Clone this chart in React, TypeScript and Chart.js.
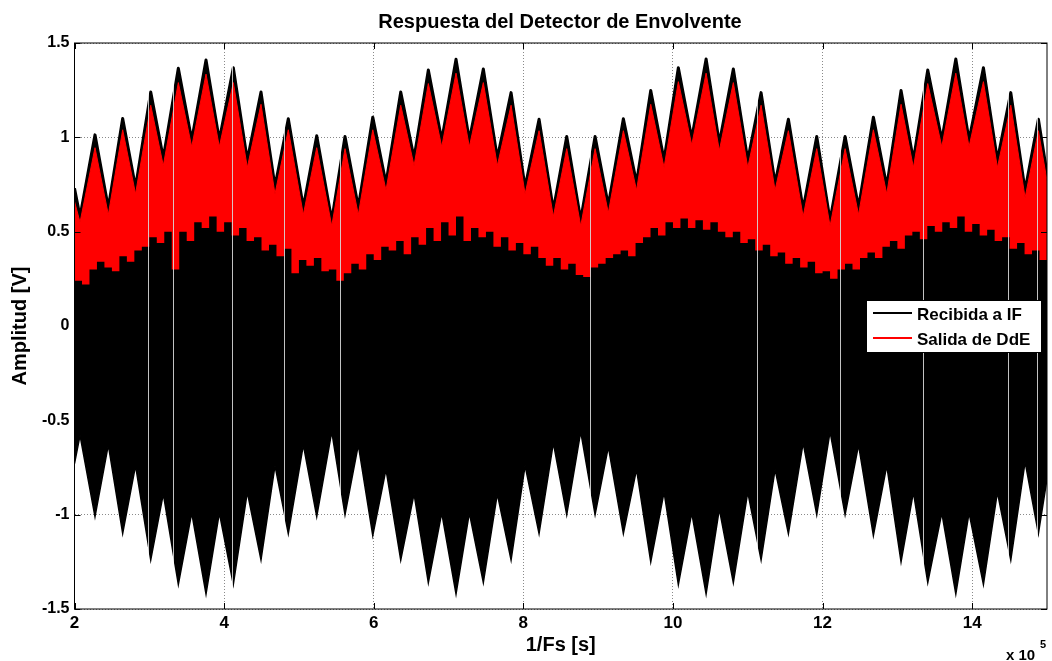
import React, { useEffect, useRef } from "react";
import { Chart, registerables } from "chart.js";

Chart.register(...registerables);

// ---- Data (x in units of 1e5 samples) ----
// Knots of the received-IF envelope (alternating troughs / peaks)
const envelopeX = [
  2.0, 2.074, 2.274, 2.452, 2.644, 2.816, 3.019, 3.187, 3.388, 3.567, 3.758, 3.936,
  4.123, 4.31, 4.493, 4.68, 4.858, 5.059, 5.238, 5.439, 5.616, 5.794, 5.987, 6.164,
  6.361, 6.539, 6.73, 6.909, 7.1, 7.278, 7.465, 7.652, 7.836, 8.023, 8.21, 8.401,
  8.58, 8.767, 8.959, 9.136, 9.337, 9.513, 9.703, 9.881, 10.072, 10.251, 10.443, 10.62,
  10.807, 11.0, 11.178, 11.365, 11.543, 11.74, 11.922, 12.1, 12.301, 12.481, 12.679, 12.858,
  13.049, 13.214, 13.406, 13.594, 13.781, 13.958, 14.15, 14.337, 14.516, 14.707, 14.885, 15.0,
];

// Upper envelope of the received IF signal (black)
const receivedUpper = [
  0.73, 0.58, 1.013, 0.627, 1.1, 0.735, 1.24, 0.89, 1.366, 0.986, 1.41, 0.986,
  1.369, 0.88, 1.24, 0.74, 1.098, 0.63, 1.008, 0.56, 1.004, 0.63, 1.107, 0.757,
  1.24, 0.89, 1.357, 0.986, 1.414, 0.986, 1.362, 0.89, 1.237, 0.735, 1.096, 0.616,
  1.004, 0.563, 1.004, 0.64, 1.098, 0.76, 1.248, 0.88, 1.369, 0.995, 1.415, 0.97,
  1.362, 0.88, 1.237, 0.757, 1.096, 0.62, 1.004, 0.56, 1.004, 0.63, 1.107, 0.74,
  1.248, 0.88, 1.357, 0.986, 1.415, 0.986, 1.369, 0.88, 1.237, 0.72, 1.096, 0.81,
];

// Lower envelope of the received IF signal (black)
const receivedLower = [
  -0.73, -0.58, -1.01, -0.63, -1.1, -0.74, -1.24, -0.89, -1.37, -0.99, -1.42, -0.99,
  -1.37, -0.88, -1.24, -0.74, -1.1, -0.63, -1.01, -0.56, -1.0, -0.63, -1.11, -0.76,
  -1.24, -0.89, -1.36, -0.99, -1.42, -0.99, -1.36, -0.89, -1.24, -0.74, -1.1, -0.62,
  -1.0, -0.56, -1.0, -0.64, -1.1, -0.76, -1.25, -0.88, -1.37, -0.99, -1.42, -0.97,
  -1.36, -0.88, -1.24, -0.76, -1.1, -0.62, -1.0, -0.56, -1.0, -0.63, -1.11, -0.74,
  -1.25, -0.88, -1.36, -0.99, -1.42, -0.99, -1.37, -0.88, -1.24, -0.72, -1.1, -0.81,
];

// Upper edge of the envelope-detector output (red)
const detectorUpper = [
  0.66, 0.55, 0.945, 0.59, 1.04, 0.7, 1.17, 0.85, 1.29, 0.95, 1.335, 0.95,
  1.29, 0.84, 1.175, 0.7, 1.04, 0.59, 0.945, 0.53, 0.94, 0.59, 1.04, 0.72,
  1.17, 0.85, 1.285, 0.95, 1.34, 0.95, 1.29, 0.85, 1.17, 0.7, 1.035, 0.58,
  0.94, 0.53, 0.94, 0.6, 1.035, 0.72, 1.175, 0.84, 1.295, 0.96, 1.34, 0.93,
  1.29, 0.84, 1.17, 0.72, 1.035, 0.58, 0.94, 0.53, 0.94, 0.59, 1.04, 0.7,
  1.175, 0.84, 1.285, 0.95, 1.34, 0.95, 1.295, 0.84, 1.17, 0.68, 1.035, 0.77,
];

// Lower (noisy) edge of the detector output, sampled every 0.1e5 from 2 to 15
const detectorLower = [
  0.24, 0.22, 0.3, 0.34, 0.31, 0.29, 0.37, 0.34, 0.4, 0.42,
  0.47, 0.44, 0.5, 0.3, 0.5, 0.45, 0.55, 0.52, 0.58, 0.5,
  0.55, 0.48, 0.52, 0.45, 0.47, 0.4, 0.43, 0.37, 0.41, 0.28,
  0.35, 0.32, 0.36, 0.29, 0.3, 0.24, 0.28, 0.33, 0.3, 0.38,
  0.35, 0.42, 0.4, 0.45, 0.38, 0.47, 0.43, 0.52, 0.45, 0.55,
  0.48, 0.58, 0.45, 0.52, 0.47, 0.5, 0.42, 0.47, 0.4, 0.44,
  0.38, 0.42, 0.36, 0.32, 0.36, 0.3, 0.33, 0.27, 0.26, 0.31,
  0.33, 0.36, 0.38, 0.4, 0.37, 0.44, 0.47, 0.52, 0.48, 0.55,
  0.52, 0.57, 0.52, 0.56, 0.51, 0.55, 0.5, 0.47, 0.5, 0.44,
  0.46, 0.4, 0.43, 0.37, 0.39, 0.33, 0.36, 0.31, 0.34, 0.28,
  0.29, 0.25, 0.3, 0.33, 0.3, 0.36, 0.39, 0.36, 0.42, 0.45,
  0.41, 0.48, 0.5, 0.46, 0.53, 0.5, 0.55, 0.52, 0.58, 0.5,
  0.54, 0.48, 0.51, 0.45, 0.47, 0.41, 0.44, 0.38, 0.4, 0.35,
  0.37,
];
const detectorLowerStart = 2;
const detectorLowerStep = 0.1;

// Thin sampling gaps that show as pale vertical lines through the signal
const carrierGapsX = [2.98, 3.32, 4.11, 4.8, 5.55, 8.89, 11.12, 12.23, 13.34, 14.48, 14.87];

const xTicks = [2, 4, 6, 8, 10, 12, 14];
const xTickLabels = ["2", "4", "6", "8", "10", "12", "14"];
const yTicks = [-1.5, -1, -0.5, 0, 0.5, 1, 1.5];
const yTickLabels = ["-1.5", "-1", "-0.5", "0", "0.5", "1", "1.5"];

const titleText = "Respuesta del Detector de Envolvente";
const xTitle = "1/Fs [s]";
const yTitle = "Amplitud [V]";
const legendLabels = ["Recibida a IF", "Salida de DdE"];
const legendColors = ["#000000", "#ff0000"];

const FONT = "'Liberation Sans', Arial, Helvetica, sans-serif";

const decorPlugin = {
  id: "decor",
  afterDatasetsDraw(chart: any) {
    const { ctx, chartArea } = chart;
    const { top, bottom } = chartArea;
    const xs = chart.scales.x;
    ctx.save();
    ctx.beginPath();
    ctx.rect(chartArea.left, top, chartArea.right - chartArea.left, bottom - top);
    ctx.clip();
    ctx.globalCompositeOperation = "source-atop";
    ctx.strokeStyle = "rgba(215,215,215,0.9)";
    ctx.lineWidth = 1;
    ctx.beginPath();
    for (const g of carrierGapsX) {
      const px = Math.round(xs.getPixelForValue(g)) + 0.5;
      ctx.moveTo(px, top);
      ctx.lineTo(px, bottom);
    }
    ctx.stroke();
    ctx.restore();
  },
  afterDraw(chart: any) {
    const { ctx, chartArea } = chart;
    const { left, right, top, bottom } = chartArea;
    const xs = chart.scales.x;
    const ys = chart.scales.y;
    ctx.save();
    // frame
    ctx.strokeStyle = "#000";
    ctx.lineWidth = 1;
    ctx.strokeRect(left, top, right - left, bottom - top);
    // inward ticks
    ctx.beginPath();
    for (const v of xTicks) {
      const px = Math.round(xs.getPixelForValue(v)) + 0.5;
      ctx.moveTo(px, bottom);
      ctx.lineTo(px, bottom - 6);
      ctx.moveTo(px, top);
      ctx.lineTo(px, top + 6);
    }
    for (const v of yTicks) {
      const py = Math.round(ys.getPixelForValue(v)) + 0.5;
      ctx.moveTo(left, py);
      ctx.lineTo(left + 6, py);
      ctx.moveTo(right, py);
      ctx.lineTo(right - 6, py);
    }
    ctx.stroke();

    // legend
    const lx = 866.5, ly = 300.5, lw = 175, lh = 52;
    ctx.fillStyle = "#fff";
    ctx.fillRect(lx, ly, lw, lh);
    ctx.strokeStyle = "#000";
    ctx.lineWidth = 1;
    ctx.strokeRect(lx, ly, lw, lh);
    ctx.font = `bold 17px ${FONT}`;
    ctx.textBaseline = "middle";
    ctx.textAlign = "left";
    legendLabels.forEach((lab, i) => {
      const y = 313 + i * 25;
      ctx.strokeStyle = legendColors[i];
      ctx.lineWidth = 2;
      ctx.beginPath();
      ctx.moveTo(873, y);
      ctx.lineTo(912, y);
      ctx.stroke();
      ctx.fillStyle = "#000";
      ctx.fillText(lab, 917, y + 2);
    });

    // title
    ctx.fillStyle = "#000";
    ctx.font = `bold 20px ${FONT}`;
    ctx.textAlign = "center";
    ctx.textBaseline = "middle";
    ctx.fillText(titleText, 560, 22);

    // exponent label
    ctx.textAlign = "left";
    ctx.textBaseline = "alphabetic";
    ctx.font = `bold 15px ${FONT}`;
    ctx.fillText("x 10", 1006, 660);
    ctx.font = `bold 11px ${FONT}`;
    ctx.fillText("5", 1040, 648);
    ctx.restore();
  },
};

export default function App() {
  const ref = useRef<HTMLCanvasElement>(null);
  useEffect(() => {
    const upperPts = envelopeX.map((x, i) => ({ x, y: receivedUpper[i] }));
    const lowerPts = envelopeX.map((x, i) => ({ x, y: receivedLower[i] }));
    const redPts = envelopeX.map((x, i) => ({ x, y: detectorUpper[i] }));
    const floorPts = detectorLower.map((y, i) => ({
      x: detectorLowerStart + i * detectorLowerStep,
      y,
    }));
    const chart = new Chart(ref.current as HTMLCanvasElement, {
      type: "line",
      data: {
        datasets: [
          {
            label: "floor",
            data: floorPts,
            borderWidth: 0,
            borderColor: "rgba(0,0,0,0)",
            backgroundColor: "#000",
            fill: "origin",
            pointRadius: 0,
            stepped: true,
            order: 0,
          },
          {
            label: legendLabels[1],
            data: redPts,
            borderWidth: 1,
            borderColor: "#ff0000",
            backgroundColor: "#ff0000",
            fill: "origin",
            pointRadius: 0,
            tension: 0,
            order: 1,
          },
          {
            label: legendLabels[0],
            data: upperPts,
            borderWidth: 3,
            borderColor: "#000",
            backgroundColor: "#000",
            fill: "origin",
            pointRadius: 0,
            tension: 0,
            borderJoinStyle: "round",
            order: 2,
          },
          {
            label: "lower",
            data: lowerPts,
            borderWidth: 1.5,
            borderColor: "#000",
            backgroundColor: "#000",
            fill: "origin",
            pointRadius: 0,
            tension: 0,
            order: 3,
          },
        ],
      },
      options: {
        animation: false,
        responsive: true,
        maintainAspectRatio: false,
        parsing: false as any,
        normalized: true,
        layout: { padding: { top: 43, right: 5, bottom: 0, left: 0 } },
        plugins: {
          legend: { display: false },
          tooltip: { enabled: false },
          title: { display: false },
        },
        events: [],
        scales: {
          x: {
            type: "linear",
            min: 2,
            max: 15,
            afterBuildTicks: (s: any) => {
              s.ticks = xTicks.map((v) => ({ value: v }));
            },
            afterFit: (s: any) => {
              s.height = 52;
            },
            ticks: {
              color: "#000",
              font: { family: FONT, weight: "bold", size: 17 },
              padding: 4,
              maxRotation: 0,
              autoSkip: false,
              callback: (v: any) => {
                const i = xTicks.indexOf(Number(v));
                return i >= 0 ? xTickLabels[i] : "";
              },
            },
            grid: { color: "#8a8a8a", lineWidth: 1, drawTicks: false },
            border: { display: false, dash: [1, 2] },
            title: {
              display: true,
              text: xTitle,
              color: "#000",
              font: { family: FONT, weight: "bold", size: 20 },
              padding: { top: 0, bottom: 4 },
            },
          },
          y: {
            type: "linear",
            min: -1.5,
            max: 1.5,
            afterBuildTicks: (s: any) => {
              s.ticks = yTicks.map((v) => ({ value: v }));
            },
            afterFit: (s: any) => {
              s.width = 74.5;
            },
            ticks: {
              color: "#000",
              font: { family: FONT, weight: "bold", size: 16 },
              padding: 5,
              autoSkip: false,
              callback: (v: any) => {
                const i = yTicks.indexOf(Number(v));
                return i >= 0 ? yTickLabels[i] : "";
              },
            },
            grid: { color: "#8a8a8a", lineWidth: 1, drawTicks: false },
            border: { display: false, dash: [1, 2] },
            title: {
              display: true,
              text: yTitle,
              color: "#000",
              font: { family: FONT, weight: "bold", size: 20 },
              padding: { top: 8, bottom: 0 },
            },
          },
        },
      },
      plugins: [decorPlugin],
    });
    return () => chart.destroy();
  }, []);

  return (
    <div style={{ position: "absolute", left: 0, top: 0, width: 1052, height: 661, background: "#fff" }}>
      <canvas ref={ref} style={{ display: "block" }} />
    </div>
  );
}
